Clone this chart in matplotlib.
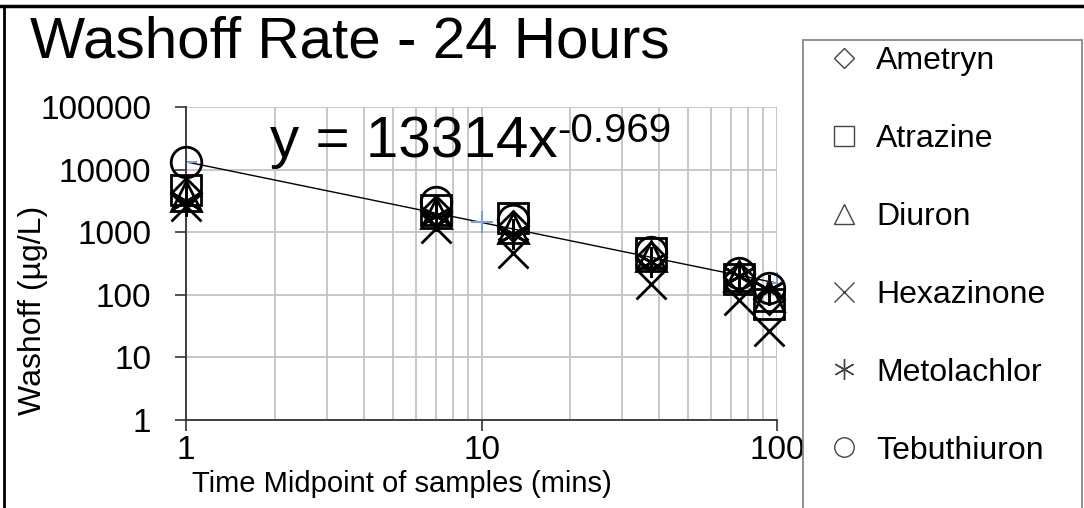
import matplotlib
matplotlib.use('Agg')
import matplotlib.pyplot as plt
from matplotlib.lines import Line2D
from matplotlib.patches import Rectangle
from matplotlib.ticker import LogLocator, NullLocator, FixedLocator, FixedFormatter
import numpy as np

plt.rcParams['font.family'] = ['Liberation Sans', 'DejaVu Sans']

# ---------------- data ----------------
time_mid = [1, 7, 12.8, 37.5, 74.5, 94]
ametryn = [4300, 2200, 1250, 400, 190, 85]
atrazine = [4700, 2300, 1700, 460, 180, 72]
diuron = [3800, 2000, 1150, 420, 200, 95]
hexazinone = [2600, 1150, 470, 150, 82, 26]
metolachlor = [3200, 1800, 950, 330, 200, 120]
tebuthiuron = [13400, 3000, 1550, 480, 220, 130]
series_names = ['Ametryn', 'Atrazine', 'Diuron', 'Hexazinone', 'Metolachlor', 'Tebuthiuron']
fit_a = 13314
fit_b = -0.969
fit_x = [1, 10, 100]
y_ticks = [1, 10, 100, 1000, 10000, 100000]
y_ticklabels = ['1', '10', '100', '1000', '10000', '100000']
x_ticks = [1, 10, 100]
x_ticklabels = ['1', '10', '100']

series_vals = [ametryn, atrazine, diuron, hexazinone, metolachlor, tebuthiuron]
markers = ['D', 's', '^', 'x', (6, 2, 0), 'o']
plot_ms = [15, 22, 21, 22, 22, 22]
leg_ms = [10, 14, 14, 14, 15, 14]

W, H = 1084, 508
fig = plt.figure(figsize=(W / 100, H / 100), dpi=100)
ax = fig.add_axes([186 / W, 1 - 420 / H, (777 - 186) / W, (420 - 107) / H])
ax.set_xscale('log')
ax.set_yscale('log')
ax.set_xlim(1, 100)
ax.set_ylim(1, 1e5)

ax.xaxis.set_major_locator(FixedLocator(x_ticks))
ax.xaxis.set_major_formatter(FixedFormatter(x_ticklabels))
ax.xaxis.set_minor_locator(LogLocator(base=10, subs=np.arange(2, 10)))
ax.yaxis.set_major_locator(FixedLocator(y_ticks))
ax.yaxis.set_major_formatter(FixedFormatter(y_ticklabels))
ax.yaxis.set_minor_locator(NullLocator())

grid_c = '#c4c4c4'
ax.grid(True, which='both', axis='x', color=grid_c, lw=1.3)
ax.grid(True, which='major', axis='y', color=grid_c, lw=1.3)
ax.set_axisbelow(True)
for s in ['top', 'right']:
    ax.spines[s].set_visible(False)
for s in ['left', 'bottom']:
    ax.spines[s].set_color('#333333')
    ax.spines[s].set_linewidth(1.3)
ax.tick_params(which='major', length=8, width=1.2, color='#333333', labelsize=24)
ax.tick_params(axis='x', which='minor', length=0)
ax.tick_params(axis='y', pad=17)
ax.tick_params(axis='x', pad=3)

# trend line
tx = np.array([1.0, 100.0])
ax.plot(tx, fit_a * tx ** fit_b, color='black', lw=1.0, zorder=2)
fx = np.array(fit_x, dtype=float)
ax.plot(fx, fit_a * fx ** fit_b, ls='none', marker='+', color='#7f9fd6', ms=16, mew=1.5, zorder=2)

for vals, m, ms in zip(series_vals, markers, plot_ms):
    ax.plot(time_mid, vals, ls='none', marker=m, ms=ms, mfc='none', mec='black', mew=2.0, zorder=3,
            clip_on=False)

ax.set_xlabel('Time Midpoint of samples (mins)', fontsize=21, va='center')
ax.xaxis.set_label_coords(0.366, -0.205)
ax.set_ylabel('Washoff (µg/L)', fontsize=23, va='center')
ax.yaxis.set_label_coords(-0.259, 0.35)

# title and equation
fig.text(350 / W, 1 - 42 / H, 'Washoff Rate - 24 Hours', ha='center', va='center', fontsize=42)
eq = fig.text(270 / W, 1 - 142 / H, f'y = {fit_a}x', ha='left', va='center', fontsize=42)
ax.annotate(f'{fit_b}', xy=(1, 1), xycoords=eq, xytext=(0, 2), textcoords='offset points',
            ha='left', va='top', fontsize=29, annotation_clip=False)

# legend
handles = [Line2D([], [], ls='none', marker=m, ms=ms, mfc='none', mec='#444444', mew=1.0)
           for m, ms in zip(markers, leg_ms)]
fig.legend(handles, series_names, loc='upper left', bbox_to_anchor=(828 / W, 1 - 46 / H),
           frameon=False, fontsize=23, handlelength=1.0, handletextpad=0.5, labelspacing=1.5,
           borderpad=0, borderaxespad=0)
fig.add_artist(Rectangle((803 / W, -0.02), (1082 - 803) / W, (508 - 40) / H + 0.02,
                         transform=fig.transFigure, fill=False, edgecolor='#888888', lw=1.3))

# outer frame lines
fig.add_artist(Line2D([0, 1], [1 - 6 / H] * 2, color='black', lw=2.5, transform=fig.transFigure))
fig.add_artist(Line2D([3.5 / W] * 2, [0, 1 - 6 / H], color='black', lw=2.0, transform=fig.transFigure))

fig.savefig('out.png', dpi=100)
